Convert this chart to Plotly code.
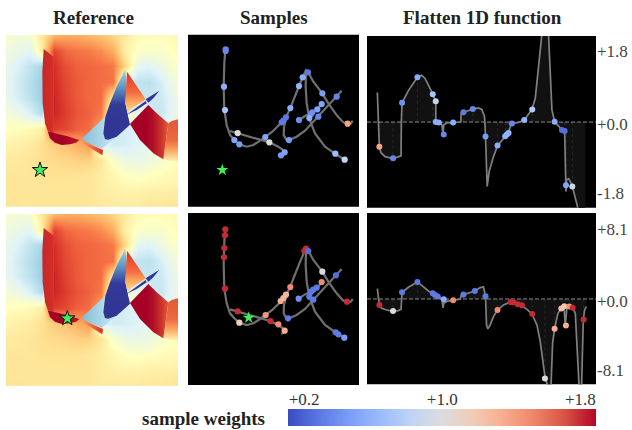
import plotly.graph_objects as go

W, H = 632, 430
SERIF = "Liberation Serif"

# ---------- colour tables ----------
FIELD_SCALE = [[0, "#313695"], [.1, "#4575b4"], [.2, "#74add1"], [.3, "#abd9e9"], [.4, "#e0f3f8"],
               [.5, "#ffffbf"], [.6, "#fee090"], [.7, "#fdae61"], [.8, "#f46d43"], [.9, "#d73027"], [1, "#a50026"]]
WEIGHT_SCALE = [[0, "#3b4cc0"], [.1, "#5a78e4"], [.2, "#7b9ff9"], [.3, "#9abbff"], [.4, "#c0d4f5"],
                [.5, "#dddcdc"], [.6, "#f2cbb7"], [.7, "#f7ac8e"], [.8, "#ee8468"], [.9, "#d65244"], [1, "#b40426"]]
WMIN, WMAX = 0.107, 1.89

# ---------- reference field: coarse grid ----------
field_x = [18, 53.7, 89.3, 125, 160.7, 196.3, 232, 267.7, 303.3, 339, 374.7, 410.3, 446, 481.7, 517.3, 553]
field_y = [105, 152, 199, 246, 293, 339, 386, 433, 480, 527, 574, 620]
field_z = [
    [.47, .46, .47, .58, .68, .70, .70, .68, .66, .62, .57, .52, .51, .51, .52, .52],
    [.45, .43, .41, .56, .87, .81, .79, .78, .75, .70, .55, .49, .48, .48, .50, .52],
    [.43, .39, .34, .29, .90, .85, .82, .81, .80, .78, .62, .42, .40, .44, .48, .50],
    [.42, .37, .32, .27, .91, .86, .83, .81, .80, .79, .38, .34, .33, .38, .44, .48],
    [.43, .38, .33, .27, .92, .87, .83, .81, .80, .55, .38, .36, .35, .36, .42, .46],
    [.46, .44, .39, .31, .92, .88, .84, .82, .78, .40, .38, .40, .38, .35, .42, .46],
    [.50, .51, .52, .55, .88, .86, .82, .80, .70, .36, .38, .40, .40, .42, .44, .46],
    [.54, .55, .56, .60, .64, .66, .70, .74, .40, .37, .38, .40, .42, .44, .47, .48],
    [.57, .57, .58, .60, .61, .62, .63, .63, .58, .48, .44, .43, .44, .47, .50, .52],
    [.58, .58, .58, .59, .59, .59, .59, .58, .56, .53, .50, .49, .50, .51, .52, .53],
    [.58, .58, .58, .58, .58, .58, .58, .58, .56, .55, .54, .54, .55, .55, .55, .56],
    [.59, .59, .58, .58, .58, .58, .58, .58, .57, .57, .57, .57, .58, .58, .59, .59],
]

# ---------- reference field: sharp-edged regions (outline, gradient) ----------
red_strip = ([131, 127, 128, 135, 143, 161, 161],
             [147, 215, 310, 370, 392, 400, 170],
             "horizontal", 127, 161, ["#c7252a", "#d53027"])
dark_lens = ([143, 150, 165, 185, 210, 228, 238, 200, 165],
             [394, 415, 428, 435, 433, 428, 420, 408, 400],
             "horizontal", 143, 238, ["#a50026", "#a50026", "#bd1726"])
red_sliver = ([240, 305, 309, 307, 290, 262],
              [419, 447, 450, 466, 456, 438],
              "horizontal", 240, 308, ["#fdae61", "#f46d43", "#d73027"])
light_wedge = ([245, 318, 310, 318, 392, 330, 305, 262],
               [416, 348, 400, 420, 375, 425, 447, 428],
               "horizontal", 245, 392, ["#83bbd8", "#b5dfec", "#cfeaf3"])
blue_wedge = ([376, 350, 330, 316, 310, 315, 325, 350, 390, 376, 380],
              [208, 260, 310, 350, 400, 418, 419, 410, 374, 310, 260],
              "vertical", 208, 420, ["#a6d6e8", "#5f97c6", "#333a98", "#313695", "#313695"])
upper_wedge = ([381, 437, 420, 395, 383, 376, 378],
               [215, 298, 310, 325, 340, 310, 265],
               "vertical", 215, 340, ["#d73027", "#e8512f", "#f46d43", "#fdae61", "#fee090"])
pale_lens = ([383, 430, 446, 420, 392],
             [345, 315, 312, 340, 370],
             "vertical", 312, 370, ["#d8eef5", "#eef8e0", "#ffffbf"])
right_fade = ([505, 515, 534, 534, 510, 490],
              [370, 363, 358, 485, 482, 478],
              "vertical", 360, 482, ["#e4593a", "#e8603a", "#ec6a40", "#f9a860", "#fff0b0"])
right_red = ([390, 445, 470, 500, 505, 490, 460, 420],
             [372, 315, 340, 368, 370, 478, 460, 420],
             "horizontal", 392, 505, ["#a50026", "#a50026", "#a50026", "#b01026", "#c8302a", "#e4593a"])
streak_a = ([478, 445, 437, 445, 460], [272, 292, 298, 308, 295],
            "horizontal", 437, 478, ["#313695", "#313695"])
streak_b = ([437, 385, 380, 410, 440], [303, 338, 344, 330, 310],
            "horizontal", 380, 440, ["#313695", "#313695"])
field_regions = [red_strip, dark_lens, red_sliver, light_wedge, blue_wedge, upper_wedge,
                 pale_lens, right_fade, right_red, streak_a, streak_b]
star_field = [(120, 510), (202, 418)]

# ---------- sample space curves (state coordinates) ----------
path_main_x = [121, 118, 116, 118, 125, 135, 148, 163, 185, 205, 225, 241, 262, 290, 305, 316, 330, 342, 353, 363,
               370, 385, 412, 430, 455, 475, 488, 498, 503]
path_main_y = [88, 130, 200, 270, 315, 345, 360, 373, 380, 375, 362, 351, 335, 307, 288, 264, 225, 198, 172, 150,
               157, 185, 220, 250, 285, 307, 311, 310, 302]
path_down_x = [363, 362, 365, 373, 390, 420, 450, 479]
path_down_y = [150, 200, 250, 295, 340, 380, 401, 419]
path_loop_x = [305, 297, 296, 303, 312, 335, 360, 380, 400, 430, 455, 470]
path_loop_y = [288, 320, 345, 358, 360, 350, 332, 310, 290, 258, 230, 212]
path_short_x = [342, 360, 382, 397, 410]
path_short_y = [300, 288, 277, 268, 252]
path_low_x = [135, 157, 200, 253, 280, 298, 296, 288]
path_low_y = [333, 339, 352, 367, 380, 393, 403, 406]
sample_paths = [(path_main_x, path_main_y), (path_down_x, path_down_y), (path_loop_x, path_loop_y),
                (path_short_x, path_short_y), (path_low_x, path_low_y)]

s1_x = [122, 122, 117, 120, 158, 148, 163, 241, 253, 299, 288, 290, 295, 303, 316, 342, 353, 369, 412, 455, 410, 397,
        382, 378, 342, 373, 400, 312, 451, 479, 488]
s1_y = [88, 93, 200, 270, 339, 360, 373, 351, 367, 397, 406, 307, 302, 292, 264, 198, 172, 157, 220, 230, 252, 268,
        277, 282, 300, 294, 290, 360, 401, 419, 311]
s1_w = [.35, .35, .55, .7, 1.0, .5, .45, .5, 1.0, .5, .45, .3, .3, .3, .55, .6, .55, .3, .45, .35, .5, .5,
        .4, .4, .4, .55, .35, .45, .65, .85, 1.4]

s2_x = [121, 120, 118, 117, 120, 158, 163, 242, 256, 280, 299, 287, 295, 303, 316, 358, 363, 370, 412, 410, 453, 395,
        385, 378, 341, 373, 385, 309, 452, 460, 478, 486]
s2_y = [57, 75, 113, 141, 235, 303, 337, 314, 332, 342, 361, 272, 263, 253, 230, 122, 115, 122, 184, 215, 195, 232,
        238, 244, 265, 259, 268, 324, 366, 372, 382, 274]
s2_w = [1.8, 1.8, 1.8, 1.8, 1.8, 1.8, 1.15, 1.45, 1.8, 1.5, 1.35, 1.35, 1.3, 1.3, 1.5, 1.8, 1.8, .25, .95, 1.5, .25, .3,
        .3, .3, .4, .3, .3, .3, .3, .3, .45, 1.8]
star_sample = [(112, 450), (191, 322)]

# ---------- flattened 1D functions ----------
f1_t = [37, 40, 43, 48, 60, 84, 100, 108, 109, 111, 130, 157, 170, 180, 195, 203, 212, 212, 215, 225, 231, 233, 236,
        245, 264, 287, 288, 295, 323, 340, 350, 358, 361, 364, 366, 372, 385, 397, 420, 430, 438, 460, 477, 500,
        510, 520, 527, 538, 550, 553, 560, 568, 590, 598, 600, 602, 604, 610, 620, 630, 638, 650, 660]
f1_v = [.75, .14, -.63, -.78, -.88, -.93, -.89, -.86, .05, .49, .80, 1.14, 1.19, 1.11, .86, .71, .53, .05, -.01, -.03,
        -.08, -.33, -.08, -.02, -.01, 0, .22, .25, .33, .36, .32, .14, -.37, -1.64, -1.64, -1.26, -.88, -.60, -.36,
        -.27, -.05, -.01, .05, .32, .60, 1.49, 2.19, 2.9, 2.19, 1.49, .31, .01, -.20, -.22, -1.14, -1.77, -1.47,
        -1.44, -1.60, -1.90, -2.18, -2.6, -2.6]
p1_t = [43, 84, 111, 157, 203, 212, 212, 221, 236, 264, 295, 323, 361, 397, 420, 425, 430, 440, 477, 501, 568, 590,
        598, 602, 621]
p1_v = [-.63, -.92, .49, 1.14, .71, .53, 0, -.01, -.32, -.01, .25, .33, -.37, -.60, -.36, -.32, -.28, -.04, .05, .32,
        .01, -.20, -.23, -1.61, -1.64]
p1_w = [1.4, .35, .4, .55, .7, .85, .55, .55, .35, .55, .3, .35, .45, .55, .6, .6, .6, .35, .6, .75, .55, .25,
        .25, .5, .9]

f2_t = [37, 40, 43, 50, 65, 84, 100, 108, 109, 111, 130, 157, 170, 190, 203, 212, 225, 231, 234, 236, 245, 264, 285,
        288, 295, 329, 345, 355, 361, 364, 368, 375, 385, 397, 415, 436, 450, 468, 485, 500, 515, 525, 535, 540, 546,
        550, 556, 558, 562, 568, 578, 588, 596, 600, 605, 612, 622, 630, 636, 640, 643, 648, 650, 652, 654, 658, 663]
f2_v = [1.19, -.12, -.69, -1.07, -1.27, -1.42, -1.34, -1.19, .19, .77, 1.34, 1.96, 1.57, .92, .65, .42, .19, -.19,
        -1.04, -.5, -.27, -.15, -.04, .35, .50, .92, 1.31, 1.38, .31, -2.99, -3.45, -2.99, -2.03, -1.27, -.69, -.35,
        -.5, -.73, -1.19, -1.73, -2.99, -4.91, -7.79, -9.17, -9.83, -11.25, -11.25, -8.18, -5.11, -3.42, -1.65,
        -1.11, -.88, -3.07, -.96, -.84, -1.0, -1.65, -5.87, -9.83, -11.25, -11.25, -8.18, -5.11, -2.42, -1.27, -.88]
p2_t = [43, 84, 111, 157, 203, 210, 218, 236, 264, 295, 329, 361, 397, 436, 445, 458, 470, 501, 539, 568, 588, 597,
        602, 612, 622, 655]
p2_v = [-.69, -1.38, .77, 1.96, .65, .46, .27, -.04, -.15, .50, .92, .31, -1.27, -.35, -.42, -.61, -.73, -1.73, -9.17,
        -3.42, -1.11, -.84, -3.07, -.88, -1.0, -2.38]
p2_w = [1.8, 1.0, .3, .3, .3, .3, .3, .55, 1.5, .3, .3, .3, 1.5, 1.8, 1.8, 1.8, 1.8, 1.8, 1.05, 1.35, 1.25, 1.2,
        1.35, 1.45, 1.8, 1.8]

# ---------- labels ----------
titles = ["Reference", "Samples", "Flatten 1D function"]
ticks_row1 = ([1.8, -0.05, -1.8], ["+1.8", "+0.0", "-1.8"])
ticks_row2 = ([8.1, -0.19, -8.18], ["+8.1", "+0.0", "-8.1"])
bar_weights = [0.107, 0.2, 0.4, 0.6, 0.8, 1.0, 1.2, 1.4, 1.6, 1.8, 1.89]
bar_ticks = ([0.2, 1.0, 1.8], ["+0.2", "+1.0", "+1.8"])
bar_label = "sample weights"

fig = go.Figure()
layout = dict(width=W, height=H, margin=dict(l=0, r=0, t=0, b=0), paper_bgcolor="white",
              plot_bgcolor="white", showlegend=False, font=dict(family=SERIF, color="#222"))


def dom(a, b, size, flip=False):
    return [1 - b / size, 1 - a / size] if flip else [a / size, b / size]


def axes(n, px, py, xr, yr):
    sx = "" if n == 1 else str(n)
    layout["xaxis" + sx] = dict(domain=dom(px[0], px[1], W), range=xr, visible=False, anchor="y" + sx, fixedrange=True)
    layout["yaxis" + sx] = dict(domain=dom(py[0], py[1], H, True), range=yr, visible=False, anchor="x" + sx,
                                fixedrange=True)
    return "x" + sx, "y" + sx


def even_scale(cols):
    return [[i / (len(cols) - 1), c] for i, c in enumerate(cols)]


def black_panel(n):
    layout["shapes"] = layout.get("shapes", []) + [dict(type="rect", xref="x%s domain" % n, yref="y%s domain" % n,
                                                        x0=0, x1=1, y0=0, y1=1, fillcolor="black", line_width=0,
                                                        layer="below")]


def draw_field(n, py, star):
    xa, ya = axes(n, (6, 178), py, [18, 534], [620, 105])
    fig.add_trace(go.Heatmap(x=field_x, y=field_y, z=field_z, zmin=0, zmax=1, colorscale=FIELD_SCALE,
                             zsmooth="best", showscale=False, xaxis=xa, yaxis=ya, hoverinfo="skip"))
    for rx, ry, kind, a, b, cols in field_regions:
        fig.add_trace(go.Scatter(x=rx, y=ry, mode="lines", line=dict(width=0), fill="toself",
                                 fillgradient=dict(type=kind, colorscale=even_scale(cols), start=a, stop=b),
                                 xaxis=xa, yaxis=ya, hoverinfo="skip"))
    fig.add_trace(go.Scatter(x=[star[0]], y=[star[1]], mode="markers", xaxis=xa, yaxis=ya, hoverinfo="skip",
                             marker=dict(symbol="star", size=11.5, color="#3ef05a", line=dict(color="#111", width=1))))


def draw_samples(n, py, yr, sx, sy, sw, star, shift):
    xa, ya = axes(n, (188, 359), py, [9, 522], yr)
    black_panel(n)
    for px_, py_ in sample_paths:
        fig.add_trace(go.Scatter(x=px_, y=[v - shift for v in py_], mode="lines", xaxis=xa, yaxis=ya,
                                 line=dict(color="#707070", width=2.2), hoverinfo="skip"))
    fig.add_trace(go.Scatter(x=sx, y=sy, mode="markers", xaxis=xa, yaxis=ya, hoverinfo="skip",
                             marker=dict(size=6.2, color=sw, cmin=WMIN, cmax=WMAX, colorscale=WEIGHT_SCALE)))
    fig.add_trace(go.Scatter(x=[star[0]], y=[star[1]], mode="markers", xaxis=xa, yaxis=ya, hoverinfo="skip",
                             marker=dict(symbol="star", size=9, color="#3ef05a")))


def draw_flat(n, py, yr, ft, fv, pt, pv, pw, ticks):
    xa, ya = axes(n, (367, 596), py, [6, 692], yr)
    layout["yaxis" + str(n)].update(visible=True, side="right", showgrid=False, zeroline=False, showline=False,
                                    tickmode="array", tickvals=ticks[0], ticktext=ticks[1], ticks="", ticklen=0,
                                    tickfont=dict(family=SERIF, size=17, color="#444"))
    black_panel(n)
    fig.add_trace(go.Scatter(x=ft, y=fv, mode="lines", fill="tozeroy", fillcolor="#111111", line=dict(width=0),
                             xaxis=xa, yaxis=ya, hoverinfo="skip"))
    vx, vy = [], []
    for t, v in zip(pt, pv):
        vx += [t, t, None]
        vy += [0, v, None]
    fig.add_trace(go.Scatter(x=vx, y=vy, mode="lines", line=dict(color="#333333", width=0.7, dash="dot"),
                             xaxis=xa, yaxis=ya, hoverinfo="skip"))
    fig.add_trace(go.Scatter(x=[6, 692], y=[0, 0], mode="lines", line=dict(color="#8a8a8a", width=1, dash="4px,2px"),
                             xaxis=xa, yaxis=ya, hoverinfo="skip"))
    fig.add_trace(go.Scatter(x=ft, y=fv, mode="lines", line=dict(color="#808080", width=1.7),
                             xaxis=xa, yaxis=ya, hoverinfo="skip"))
    fig.add_trace(go.Scatter(x=pt, y=pv, mode="markers", xaxis=xa, yaxis=ya, hoverinfo="skip",
                             marker=dict(size=6, color=pw, cmin=WMIN, cmax=WMAX, colorscale=WEIGHT_SCALE)))


draw_field(1, (35, 206.7), star_field[0])
draw_samples(2, (34.7, 206.7), [560, 44], s1_x, s1_y, s1_w, star_sample[0], 0)
draw_flat(3, (36, 207.7), [-2.18, 2.19], f1_t, f1_v, p1_t, p1_v, p1_w, ticks_row1)
draw_field(4, (214, 385.7), star_field[1])
draw_samples(5, (213, 385), [524, 8], s2_x, s2_y, s2_w, star_sample[1], 36)
draw_flat(6, (213, 384.3), [-9.83, 9.9], f2_t, f2_v, p2_t, p2_v, p2_w, ticks_row2)

# colour bar
xa, ya = axes(7, (288, 596), (409, 426), [bar_weights[0], bar_weights[-1]], [0, 1])
layout["xaxis7"].update(visible=True, side="top", showgrid=False, zeroline=False, showline=False, ticks="",
                        tickmode="array", tickvals=bar_ticks[0], ticktext=bar_ticks[1],
                        tickfont=dict(family=SERIF, size=17, color="#333"))
fig.add_trace(go.Heatmap(x=bar_weights, y=[0, 1], z=[bar_weights, bar_weights], zmin=WMIN, zmax=WMAX,
                         colorscale=WEIGHT_SCALE, zsmooth="best", showscale=False, xaxis=xa, yaxis=ya,
                         hoverinfo="skip"))

ann = []
for txt, cx in zip(titles, [93, 274, 482]):
    ann.append(dict(text=txt, x=cx / W, y=1 - 18 / H, xref="paper", yref="paper", xanchor="center", yanchor="middle",
                    showarrow=False, font=dict(family=SERIF, size=19, color="#222", weight="bold")))
ann.append(dict(text=bar_label, x=267 / W, y=1 - 418 / H, xref="paper", yref="paper", xanchor="right",
                yanchor="middle", showarrow=False, font=dict(family=SERIF, size=19, color="#222", weight="bold")))
layout["annotations"] = ann
fig.update_layout(**layout)
fig.write_html("out.html", post_script="document.body.style.margin='0';", config={"displayModeBar": False})
